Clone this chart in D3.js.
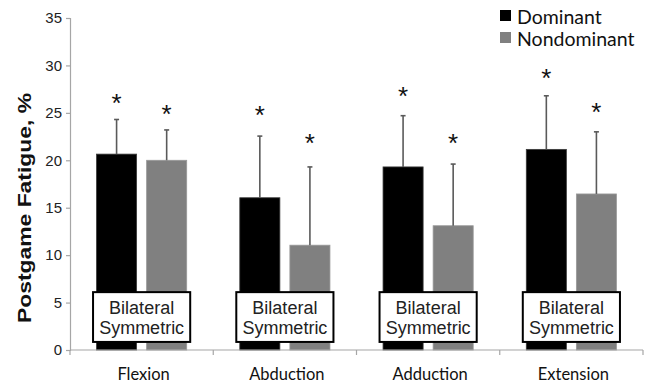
<!DOCTYPE html>
<html>
<head>
<meta charset="utf-8">
<script src="https://cdn.jsdelivr.net/npm/d3@7"></script>
<style>
  body { margin: 0; background: #fff; }
</style>
</head>
<body>
<div id="chart"></div>
<script>
// data
const categories = ["Flexion", "Abduction", "Adduction", "Extension"];
const groups = ["Dominant", "Nondominant"];
const dominant = [20.65, 16.05, 19.3, 21.15];
const nondominant = [20.0, 11.05, 13.1, 16.45];
const dominantSD = [3.65, 6.5, 5.4, 5.65];
const nondominantSD = [3.2, 8.25, 6.5, 6.55];
// where the significance asterisks sit (in % units)
const dominantStar = [26.7, 25.4, 27.4, 29.3];
const nondominantStar = [25.5, 22.5, 22.5, 25.75];
const yTicks = [0, 5, 10, 15, 20, 25, 30, 35];
const boxLines = ["Bilateral", "Symmetric"];

const width = 650;
const height = 383;
const margin = {left: 70, right: 7, top: 18, bottom: 33};

const colors = {Dominant: "#000000", Nondominant: "#808080"};

const svg = d3.select("#chart")
  .append("svg")
  .attr("width", width)
  .attr("height", height);

// scales
let y = d3.scaleLinear()
  .domain([0, 35])
  .range([height - margin.bottom, margin.top]);

let x = d3.scaleBand()
  .domain(categories)
  .range([margin.left, width - margin.right])
  .paddingInner(0)
  .paddingOuter(0);

let xInner = d3.scaleBand()
  .domain(groups)
  .range([0, x.bandwidth()])
  .paddingInner(0.2)
  .paddingOuter(0.53);

// flatten rows for the bars
const rows = [];
categories.forEach((c, i) => {
  rows.push({cat: c, group: "Dominant", value: dominant[i], sd: dominantSD[i], star: dominantStar[i]});
  rows.push({cat: c, group: "Nondominant", value: nondominant[i], sd: nondominantSD[i], star: nondominantStar[i]});
});

const barX = d => x(d.cat) + xInner(d.group);
const barMid = d => barX(d) + xInner.bandwidth() / 2;

// y axis
const yAxis = svg.append("g")
  .attr("transform", `translate(${margin.left},0)`)
  .call(d3.axisLeft(y).tickValues(yTicks).tickSize(4).tickPadding(4));
yAxis.select(".domain").attr("stroke", "#a6a6a6").attr("stroke-width", 1.2);
yAxis.selectAll(".tick line").attr("stroke", "#a6a6a6").attr("stroke-width", 1.2);
yAxis.selectAll(".tick text")
  .attr("font-family", "Liberation Sans, Arial, sans-serif")
  .attr("font-size", "15px")
  .attr("fill", "#222");

// bars
svg.selectAll(".bar")
  .data(rows)
  .enter()
  .append("rect")
  .attr("class", "bar")
  .attr("x", barX)
  .attr("y", d => y(d.value))
  .attr("width", xInner.bandwidth())
  .attr("height", d => y(0) - y(d.value))
  .attr("fill", d => colors[d.group])
  .attr("stroke", d => d.group === "Dominant" ? "#3a3a3a" : "#999")
  .attr("stroke-width", 0.8);

// error bars (upper only)
svg.selectAll(".err")
  .data(rows)
  .enter()
  .append("line")
  .attr("class", "err")
  .attr("x1", barMid)
  .attr("x2", barMid)
  .attr("y1", d => y(d.value))
  .attr("y2", d => y(d.value + d.sd))
  .attr("stroke", "#5a5a5a")
  .attr("stroke-width", 1.6);

svg.selectAll(".cap")
  .data(rows)
  .enter()
  .append("line")
  .attr("class", "cap")
  .attr("x1", d => barMid(d) - 2.5)
  .attr("x2", d => barMid(d) + 2.5)
  .attr("y1", d => y(d.value + d.sd))
  .attr("y2", d => y(d.value + d.sd))
  .attr("stroke", "#5a5a5a")
  .attr("stroke-width", 1.6);

// asterisks
svg.selectAll(".star")
  .data(rows)
  .enter()
  .append("text")
  .attr("class", "star")
  .attr("x", barMid)
  .attr("y", d => y(d.star) + 15)
  .attr("text-anchor", "middle")
  .attr("font-family", "Liberation Sans, Arial, sans-serif")
  .attr("font-size", "26px")
  .attr("fill", "#111")
  .text("*");

// x axis
const xAxis = svg.append("g")
  .attr("transform", `translate(0,${y(0)})`);
xAxis.append("line")
  .attr("x1", margin.left)
  .attr("x2", width - margin.right)
  .attr("stroke", "#a6a6a6")
  .attr("stroke-width", 1.2);
const boundaries = categories.map(c => x(c)).concat([x(categories[categories.length - 1]) + x.bandwidth()]);
xAxis.selectAll(".xtick")
  .data(boundaries)
  .enter()
  .append("line")
  .attr("class", "xtick")
  .attr("x1", d => d)
  .attr("x2", d => d)
  .attr("y1", 0)
  .attr("y2", 5)
  .attr("stroke", "#a6a6a6")
  .attr("stroke-width", 1.2);
xAxis.selectAll(".xlabel")
  .data(categories)
  .enter()
  .append("text")
  .attr("class", "xlabel")
  .attr("x", d => x(d) + x.bandwidth() / 2 + 2)
  .attr("y", 30)
  .attr("text-anchor", "middle")
  .attr("font-family", "Lato, Open Sans, sans-serif")
  .attr("font-size", "16.5px")
  .attr("fill", "#111")
  .text(d => d);

// "Bilateral Symmetric" boxes
const boxTop = 6.1;
const boxBottom = 0.85;
const boxes = svg.selectAll(".box")
  .data(categories)
  .enter()
  .append("g")
  .attr("class", "box");
boxes.append("rect")
  .attr("x", d => x(d) + xInner("Dominant") - 3.5)
  .attr("y", y(boxTop))
  .attr("width", xInner("Nondominant") + xInner.bandwidth() - xInner("Dominant") + 7)
  .attr("height", y(boxBottom) - y(boxTop))
  .attr("fill", "#fff")
  .attr("stroke", "#000")
  .attr("stroke-width", 2);
boxLines.forEach((t, i) => {
  boxes.append("text")
    .attr("x", d => x(d) + xInner("Dominant") + (xInner("Nondominant") + xInner.bandwidth() - xInner("Dominant")) / 2)
    .attr("y", y(boxTop) + 21.5 + i * 20)
    .attr("text-anchor", "middle")
    .attr("font-family", "Liberation Sans, Arial, sans-serif")
    .attr("font-size", "18px")
    .attr("fill", "#222")
    .text(t);
});

// y axis title
svg.append("text")
  .attr("transform", `translate(31,208) rotate(-90)`)
  .attr("text-anchor", "middle")
  .attr("font-family", "Liberation Sans, Arial, sans-serif")
  .attr("font-weight", "bold")
  .attr("font-size", "18px")
  .attr("textLength", 230)
  .attr("lengthAdjust", "spacingAndGlyphs")
  .attr("fill", "#111")
  .text("Postgame Fatigue, %");

// legend
const legend = svg.selectAll(".legend")
  .data(groups)
  .enter()
  .append("g")
  .attr("class", "legend")
  .attr("transform", (d, i) => `translate(500,${10 + i * 22})`);
legend.append("rect")
  .attr("width", 11)
  .attr("height", 11)
  .attr("fill", d => colors[d]);
legend.append("text")
  .attr("x", 17)
  .attr("y", 14)
  .attr("font-family", "Lato, Open Sans, sans-serif")
  .attr("font-size", "19.5px")
  .attr("fill", "#111")
  .text(d => d);
</script>
</body>
</html>
